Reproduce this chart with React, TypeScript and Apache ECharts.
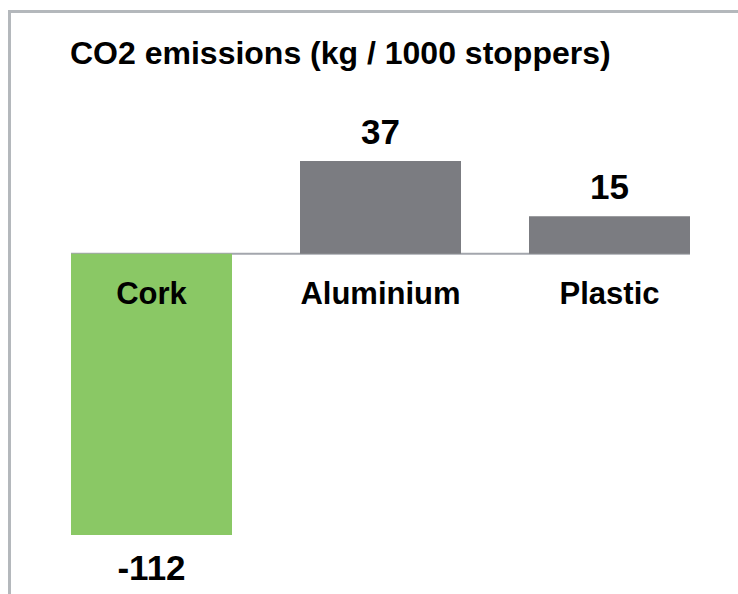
import React, { useEffect, useRef } from "react";
import * as echarts from "echarts";

const categories = ["Cork", "Aluminium", "Plastic"];
const emissions = [-112, 37, 15];
const barColors = ["#8ac865", "#7b7c81", "#7b7c81"];
const titleText = "CO2 emissions (kg / 1000 stoppers)";

const FONT = "'Liberation Sans', Arial, Helvetica, sans-serif";
const BAR_WIDTH = 161;

export default function App() {
  const ref = useRef<HTMLDivElement>(null);

  useEffect(() => {
    document.body.style.margin = "0";
    if (!ref.current) return;
    const chart = echarts.init(ref.current, null, { renderer: "svg" });

    const data = emissions.map((v, i) => ({
      value: v,
      itemStyle: { color: barColors[i] },
      label: v < 0 ? { position: "bottom", distance: 15 } : { position: "top", distance: 12 },
    }));

    const zeroPoints = categories.map((c) => ({ value: [c, 0], name: c }));

    chart.setOption({
      animation: false,
      backgroundColor: "#ffffff",
      title: {
        text: titleText,
        left: 70,
        top: 37,
        padding: 0,
        textStyle: {
          fontFamily: FONT,
          fontWeight: "bold",
          fontSize: 32,
          lineHeight: 32,
          color: "#000000",
        },
      },
      grid: { left: 37, right: 14, top: 161, bottom: 59 },
      xAxis: {
        type: "category",
        data: categories,
        axisLine: { show: false },
        axisTick: { show: false },
        axisLabel: { show: false },
      },
      yAxis: {
        type: "value",
        min: -112,
        max: 37,
        show: false,
        splitLine: { show: false },
      },
      series: [
        {
          type: "bar",
          data,
          barWidth: BAR_WIDTH,
          z: 2,
          label: {
            show: true,
            fontFamily: FONT,
            fontWeight: "bold",
            fontSize: 35,
            lineHeight: 35,
            color: "#000000",
          },
        },
        {
          type: "scatter",
          data: zeroPoints,
          symbolSize: 0,
          z: 5,
          silent: true,
          itemStyle: { opacity: 1, color: "#000000" },
          label: {
            show: true,
            position: "bottom",
            distance: 24,
            opacity: 1,
            formatter: (p: any) => p.name,
            fontFamily: FONT,
            fontWeight: "bold",
            fontSize: 31,
            lineHeight: 31,
            color: "#000000",
          },
        },
      ],
    });

    const x1 = (chart.convertToPixel({ xAxisIndex: 0 }, categories[0]) as number) - BAR_WIDTH / 2;
    const x2 =
      (chart.convertToPixel({ xAxisIndex: 0 }, categories[categories.length - 1]) as number) +
      BAR_WIDTH / 2;
    const y0 = chart.convertToPixel({ yAxisIndex: 0 }, 0) as number;

    chart.setOption({
      graphic: [
        {
          type: "line",
          z: 0,
          shape: { x1, y1: y0, x2, y2: y0 },
          style: { stroke: "#a3a6ad", lineWidth: 2 },
        },
        {
          type: "rect",
          z: 0,
          shape: { x: 8, y: 10, width: 730, height: 3 },
          style: { fill: "#b4b8bc" },
        },
        {
          type: "rect",
          z: 0,
          shape: { x: 8, y: 10, width: 3, height: 584 },
          style: { fill: "#b4b8bc" },
        },
      ],
    });

    return () => chart.dispose();
  }, []);

  return <div ref={ref} style={{ width: 738, height: 594 }} />;
}
